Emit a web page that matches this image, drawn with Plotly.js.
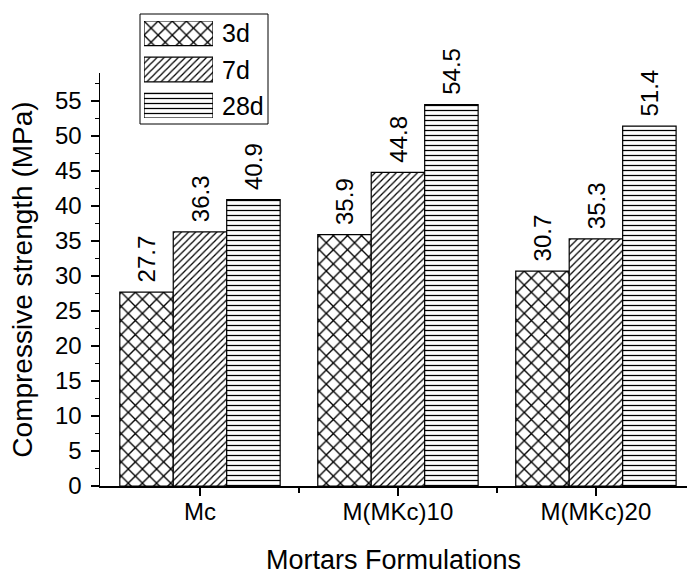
<!DOCTYPE html>
<html>
<head>
<meta charset="utf-8">
<script src="https://cdn.plot.ly/plotly-3.0.1.min.js"></script>
<style>html,body{margin:0;padding:0;background:#fff;}#chart{width:687px;height:575px;}</style>
</head>
<body>
<div id="chart"></div>
<script>
var categories = ['Mc', 'M(MKc)10', 'M(MKc)20'];
var series = ['3d', '7d', '28d'];
var strength3d = [27.7, 35.9, 30.7];
var strength7d = [36.3, 44.8, 35.3];
var strength28d = [40.9, 54.5, 51.4];
var values = [strength3d, strength7d, strength28d];
var patterns = ['x', '/', '-'];
var patternSizes = [10, 5, 5];

var FONT = 'Liberation Sans, Arial, sans-serif';
var W = 687, H = 575;
var mt = 10, mb = 89, ml = 100, mr = 0;
var paperH = H - mt - mb;
var paperW = W - ml - mr;
function py(pix){ return (H - mb - pix) / paperH; }
function px(pix){ return (pix - ml) / paperW; }

var catIndex = categories.map(function(c, i){ return i; });

var traces = series.map(function(name, i){
  return {
    type: 'bar', name: name, x: catIndex, y: values[i],
    xaxis: 'x', yaxis: 'y',
    texttemplate: '\u00a0%{y:.1f}',
    textposition: 'outside', textangle: -90, cliponaxis: false,
    textfont: {family: FONT, size: 25, color: '#000'},
    marker: {color: '#fff', line: {color: '#000', width: 1.2},
      pattern: {shape: patterns[i], fgcolor: '#000', bgcolor: '#fff', size: patternSizes[i], solidity: 0.25}},
    showlegend: false, hoverinfo: 'skip'
  };
});

// custom legend swatches drawn as horizontal bars on an auxiliary axis
traces.push({
  type: 'bar', orientation: 'h', x: [1, 1, 1], y: [0, 1, 2], base: 0,
  width: 0.68, xaxis: 'x2', yaxis: 'y2',
  marker: {color: '#fff', line: {color: '#000', width: 1.2},
    pattern: {shape: patterns, fgcolor: '#000', bgcolor: '#fff', size: patternSizes, solidity: 0.25}},
  showlegend: false, hoverinfo: 'skip'
});

var annotations = series.map(function(s, i){
  return {xref: 'paper', yref: 'y2', x: px(220), y: i, text: s, showarrow: false,
    xanchor: 'left', yanchor: 'middle', font: {family: FONT, size: 25, color: '#000'}};
});

var layout = {
  width: W, height: H,
  margin: {l: ml, r: mr, t: mt, b: mb, pad: 0},
  paper_bgcolor: '#fff', plot_bgcolor: 'rgba(0,0,0,0)',
  font: {family: FONT, size: 24, color: '#000'},
  barmode: 'group', bargap: 0.19, bargroupgap: 0,
  showlegend: false,
  xaxis: {
    domain: [0, 1], range: [-0.505, 2.46], type: 'linear',
    tickmode: 'array', tickvals: catIndex, ticktext: categories,
    showline: true, linecolor: '#000', linewidth: 1.5,
    showgrid: false, zeroline: false,
    ticks: 'outside', ticklen: 8, tickwidth: 1.5, tickcolor: '#000',
    minor: {tickmode: 'array', tickvals: [0.5, 1.5], ticks: 'outside', ticklen: 5, tickwidth: 1.5, tickcolor: '#000', showgrid: false},
    ticklabelstandoff: -4,
    tickfont: {family: FONT, size: 24},
    title: {text: 'Mortars Formulations', font: {family: FONT, size: 27}, standoff: 30}
  },
  yaxis: {
    domain: [0, py(73)], range: [0, 59],
    showline: true, linecolor: '#000', linewidth: 1.5,
    showgrid: false, zeroline: false,
    tickmode: 'linear', tick0: 0, dtick: 5,
    ticks: 'outside', ticklen: 8, tickwidth: 1.5, tickcolor: '#000',
    minor: {dtick: 2.5, tick0: 0, ticks: 'outside', ticklen: 4, tickwidth: 1.5, tickcolor: '#000', showgrid: false},
    ticklabelstandoff: 4,
    tickfont: {family: FONT, size: 24},
    title: {text: 'Compressive strength (MPa)', font: {family: FONT, size: 28}, standoff: 14}
  },
  xaxis2: {
    domain: [px(144), px(213)], range: [0, 1],
    anchor: 'y2', visible: false, fixedrange: true
  },
  yaxis2: {
    domain: [py(118), py(21)], range: [2.34, -0.34],
    anchor: 'x2', visible: false, fixedrange: true
  },
  annotations: annotations,
  shapes: [{
    type: 'rect', xref: 'paper', yref: 'paper',
    x0: px(140), x1: px(268), y0: py(124), y1: py(14),
    line: {color: '#000', width: 1}, fillcolor: 'rgba(0,0,0,0)'
  }]
};

Plotly.newPlot('chart', traces, layout, {displayModeBar: false, staticPlot: true});
</script>
</body>
</html>
